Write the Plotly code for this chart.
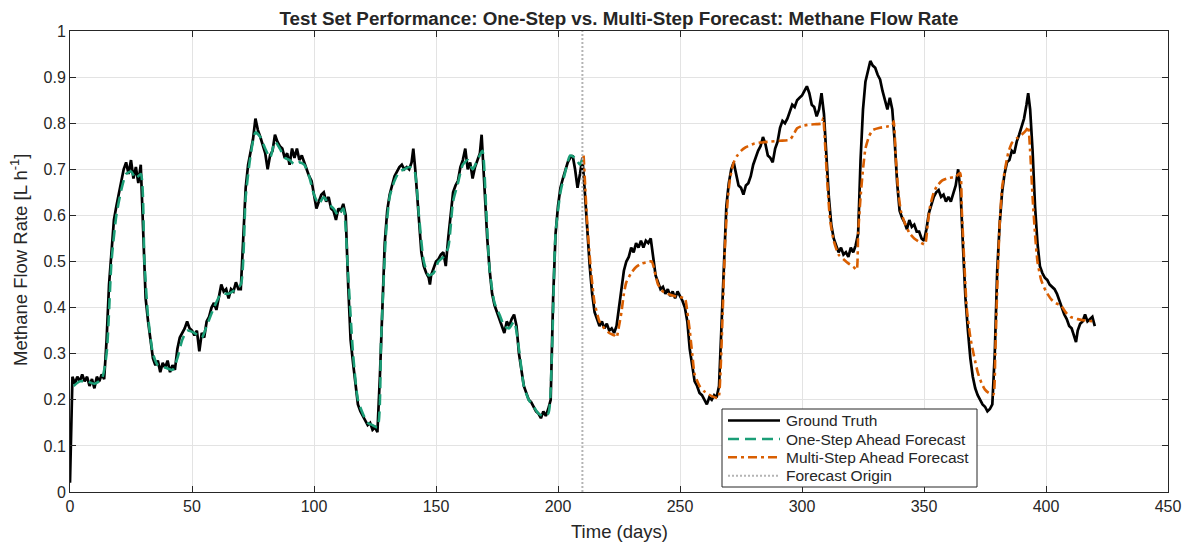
import plotly.graph_objects as go

# ---------------- data ----------------
gt_days = [0,1,2,3,4,5,6,7,8,9,10,11,12,13,14,15,16,17,18,19,20,21,22,23,24,25,26,27,28,29,
           30,31,32,33,34,35,36,37,38,39,40,41,42,43,44,45,46,47,48,49,50,51,52,53,54,55,56,57,58,59,
           60,61,62,63,64,65,66,67,68,69,70,71,72,73,74,75,76,77,78,79,80,81,82,83,84,85,86,87,88,89,
           90,91,92,93,94,95,96,97,98,99,100,101,102,103,104,105,106,107,108,109,110,111,112,113,114,115,116,117,118,119,
           120,121,122,123,124,125,126,127,128,129,130,131,132,133,134,135,136,137,138,139,140,140.7,141.5,142,143,144,145,146,147,147.5,148,149,
           150,151,152,153,154,155,156,157,158,159,160,161,162,163,164,165,166,167,168,168.7,169.5,170,171,172,173,174,175,176,177,178,179,
           180,181,182,183,184,185,186,187,188,189,190,191,192,193,194,195,196,197,198,199,200,201,202,203,204,205,206,207,208,209,
           210,211,212,213,214,215,216,217,218,219,220,221,222,223,224,225,226,227,228,229,230,231,232,233,234,235,236,237,238,239,
           240,241,242,243,244,245,246,247,248,249,250,251,252,253,254,255,256,257,258,259,260,261,262,263,264,265,266,267,268,269,
           270,271,272,273,274,275,276,277,278,279,280,281,282,283,284,285,286,287,288,289,290,291,292,293,294,295,296,297,298,299,
           300,301,302,303,304,305,306,307,308,309,310,311,312,313,314,315,316,317,318,319,320,321,322,323,324,325,326,327,328,329,
           330,331,332,333,334,335,336,337,338,339,340,341,342,343,344,345,346,347,348,349,350,351,352,353,354,355,356,357,358,359,
           360,361,362,363,364,365,366,367,368,369,370,371,372,373,374,375,376,377,378,379,380,381,382,383,384,385,386,387,388,389,
           390,391,392,392.7,393.5,394.5,395.5,396.5,397.5,398.5,399.5,400.5,401.5,402.5,403.5,404.5,405.5,406.5,407.5,408.5,409.5,410.5,411.5,412.3,413,414,415,416,417,418,419,420]
gt_vals = [0.02,0.25,0.235,0.25,0.24,0.255,0.24,0.25,0.23,0.245,0.225,0.25,0.24,0.255,0.245,0.33,0.45,0.53,0.59,0.62,0.645,0.67,0.70,0.715,0.69,0.72,0.68,0.705,0.67,0.71,
           0.55,0.42,0.37,0.33,0.29,0.275,0.285,0.26,0.28,0.27,0.285,0.26,0.275,0.265,0.31,0.335,0.345,0.355,0.37,0.355,0.35,0.34,0.35,0.305,0.345,0.335,0.37,0.38,0.40,0.41,
           0.395,0.42,0.45,0.435,0.44,0.42,0.44,0.435,0.455,0.44,0.44,0.55,0.66,0.71,0.74,0.765,0.81,0.785,0.77,0.75,0.735,0.70,0.73,0.74,0.775,0.76,0.75,0.745,0.725,0.735,
           0.71,0.745,0.725,0.745,0.72,0.73,0.715,0.70,0.685,0.675,0.64,0.615,0.63,0.645,0.65,0.63,0.64,0.615,0.61,0.59,0.615,0.61,0.625,0.60,0.45,0.33,0.28,0.24,0.19,0.175,
           0.165,0.155,0.145,0.15,0.135,0.14,0.13,0.25,0.42,0.54,0.61,0.645,0.665,0.685,0.695,0.705,0.71,0.70,0.705,0.70,0.715,0.745,0.70,0.66,0.58,0.52,0.49,0.475,0.465,0.45,0.47,0.485,
           0.50,0.505,0.515,0.52,0.49,0.55,0.60,0.65,0.665,0.675,0.705,0.72,0.745,0.70,0.715,0.68,0.705,0.72,0.735,0.775,0.70,0.63,0.55,0.48,0.43,0.405,0.39,0.375,0.36,0.345,0.37,
           0.36,0.375,0.385,0.36,0.30,0.265,0.23,0.215,0.20,0.195,0.185,0.175,0.17,0.16,0.175,0.165,0.18,0.20,0.42,0.56,0.62,0.66,0.68,0.70,0.715,0.725,0.73,0.70,0.66,0.69,
           0.725,0.65,0.56,0.49,0.43,0.39,0.375,0.36,0.37,0.355,0.365,0.35,0.355,0.345,0.36,0.40,0.45,0.48,0.50,0.51,0.53,0.52,0.54,0.53,0.545,0.53,0.545,0.54,0.55,0.51,
           0.47,0.455,0.44,0.445,0.43,0.44,0.425,0.435,0.42,0.435,0.425,0.415,0.40,0.37,0.31,0.27,0.24,0.23,0.215,0.21,0.20,0.19,0.205,0.20,0.21,0.205,0.23,0.36,0.50,0.62,
           0.67,0.70,0.715,0.69,0.665,0.66,0.645,0.665,0.67,0.685,0.71,0.725,0.74,0.75,0.77,0.755,0.73,0.725,0.715,0.745,0.76,0.79,0.805,0.80,0.81,0.825,0.84,0.835,0.85,0.855,
           0.86,0.87,0.88,0.865,0.84,0.835,0.815,0.83,0.865,0.82,0.72,0.64,0.58,0.55,0.535,0.52,0.53,0.515,0.52,0.51,0.53,0.52,0.535,0.56,0.72,0.83,0.89,0.91,0.935,0.925,
           0.92,0.905,0.895,0.87,0.85,0.83,0.855,0.83,0.76,0.67,0.61,0.595,0.585,0.57,0.59,0.575,0.58,0.565,0.565,0.55,0.545,0.57,0.605,0.625,0.64,0.65,0.655,0.64,0.645,0.63,
           0.64,0.63,0.65,0.665,0.70,0.65,0.53,0.42,0.35,0.29,0.25,0.225,0.21,0.20,0.19,0.185,0.175,0.18,0.19,0.30,0.48,0.58,0.65,0.69,0.715,0.72,0.74,0.735,0.76,0.775,
           0.795,0.81,0.84,0.865,0.83,0.74,0.62,0.54,0.49,0.475,0.465,0.46,0.45,0.445,0.44,0.43,0.415,0.40,0.385,0.375,0.36,0.355,0.34,0.325,0.35,0.365,0.37,0.385,0.37,0.375,0.38,0.36]

one_days = [1.5,4,7,10,13,15,17,19,21,23,25,27,29,30.5,32,34,36,39,42,44,46,48,51,54,56,59,62,65,68,70,
            72,74,76,78,80,82,84,86,88,90,92,94,96,98,100,102,104,106,108,110,112,114,116,118,120,122,124,126,127.5,129.5,
            131,133,135,137,139,141,143,145,147,149,151,153,155,157,159,161,163,165,167,169,170.5,172,174,176,178,180,182,184,186,188,
            190,192,194,196,197.5,199,201,203,205,207,209,210]
one_vals = [0.23,0.24,0.24,0.235,0.245,0.30,0.50,0.60,0.655,0.69,0.695,0.68,0.69,0.50,0.38,0.30,0.275,0.27,0.265,0.29,0.33,0.35,0.345,0.335,0.36,0.40,0.43,0.43,0.44,0.45,
            0.64,0.73,0.78,0.77,0.745,0.725,0.76,0.745,0.725,0.72,0.71,0.715,0.71,0.685,0.645,0.625,0.64,0.625,0.615,0.60,0.615,0.47,0.30,0.20,0.17,0.15,0.145,0.14,0.33,0.56,
            0.64,0.675,0.695,0.70,0.705,0.70,0.60,0.50,0.47,0.475,0.50,0.51,0.53,0.63,0.67,0.71,0.72,0.70,0.72,0.74,0.62,0.48,0.41,0.385,0.36,0.355,0.37,0.31,0.23,0.20,
            0.185,0.17,0.165,0.17,0.30,0.56,0.65,0.695,0.73,0.725,0.71,0.72]

multi_days = [210.5,212,213.5,215,217,219,221,223,224,225,226,227,228,230,232,234,236,238.4,240,241,243,246,249,252,253,254,255,256,258,260,
              263,265.7,266.5,267.5,268.5,269.5,270.5,272,273.5,275,277,280,283,287,291,295,296.5,298,300,303,306,308,308.7,309.5,310.5,311.5,313,315,317,319,
              321,322.4,323,324,325,326,327.5,329,332,335,337,337.6,338.5,339.5,340.5,342,344,346,348,350.4,351.5,352.5,354,355.5,357.5,360,363,364.8,365.5,366.5,
              367.5,369,370.5,372,373.6,375,376.5,378.4,379.2,380,381,382,383.2,384.5,386,388,390,392,392.7,393.5,394.5,395.5,396.5,398,400,402.3,404,406.4,408,410,
              413,416,420]
multi_vals = [0.73,0.58,0.48,0.41,0.37,0.355,0.345,0.34,0.335,0.36,0.39,0.43,0.455,0.475,0.488,0.495,0.498,0.50,0.47,0.45,0.435,0.428,0.423,0.42,0.39,0.35,0.30,0.255,0.23,0.218,
              0.208,0.204,0.25,0.39,0.54,0.63,0.68,0.715,0.73,0.74,0.748,0.755,0.758,0.76,0.762,0.764,0.775,0.789,0.794,0.797,0.798,0.799,0.811,0.75,0.66,0.59,0.545,0.515,0.505,0.496,
              0.489,0.482,0.56,0.64,0.70,0.745,0.772,0.785,0.79,0.793,0.795,0.804,0.72,0.65,0.61,0.585,0.562,0.55,0.543,0.537,0.58,0.62,0.65,0.665,0.676,0.681,0.684,0.692,0.61,0.50,
              0.40,0.335,0.295,0.26,0.236,0.222,0.215,0.211,0.30,0.44,0.58,0.66,0.70,0.735,0.757,0.767,0.775,0.786,0.793,0.74,0.64,0.56,0.50,0.46,0.435,0.417,0.41,0.403,0.39,0.38,
              0.375,0.372,0.37]

origin_day = 210
origin_span = [0, 1]

x_ticks = [0, 50, 100, 150, 200, 250, 300, 350, 400, 450]
y_ticks = [0, 0.1, 0.2, 0.3, 0.4, 0.5, 0.6, 0.7, 0.8, 0.9, 1]
y_tick_text = ["0", "0.1", "0.2", "0.3", "0.4", "0.5", "0.6", "0.7", "0.8", "0.9", "1"]

series_names = ["Ground Truth", "One-Step Ahead Forecast", "Multi-Step Ahead Forecast", "Forecast Origin"]
title_text = "Test Set Performance: One-Step vs. Multi-Step Forecast: Methane Flow Rate"
x_title = "Time (days)"
y_title = "Methane Flow Rate [L h<sup>-1</sup>]"

# ---------------- styles ----------------
FONT = "Liberation Sans, Arial, Helvetica, sans-serif"
TXT = "#262626"
W, H = 1191, 544
L, R, T, B = 70, 1168, 31, 492          # plot-area pixel box
styles = [
    dict(color="black", width=2.7),
    dict(color="#1b9e77", width=2.6, dash="11px,6px"),
    dict(color="#d95f02", width=2.6, dash="9px,4px,3px,4px"),
    dict(color="#b4b4b4", width=2.0, dash="2px,2px"),
]

fig = go.Figure()
fig.add_trace(go.Scatter(x=gt_days, y=gt_vals, mode="lines", name=series_names[0], line=styles[0]))
fig.add_trace(go.Scatter(x=one_days, y=one_vals, mode="lines", name=series_names[1],
                         line=dict(**styles[1], shape="spline", smoothing=0.6)))
fig.add_trace(go.Scatter(x=multi_days, y=multi_vals, mode="lines", name=series_names[2],
                         line=dict(**styles[2], shape="spline", smoothing=0.5)))
fig.add_trace(go.Scatter(x=[origin_day, origin_day], y=origin_span, mode="lines", name=series_names[3],
                         line=styles[3]))

axis_common = dict(showline=True, linecolor=TXT, linewidth=1, mirror="ticks",
                   ticks="inside", ticklen=6, tickcolor=TXT,
                   showgrid=True, gridcolor="#e3e3e3", gridwidth=1, zeroline=False,
                   automargin=False,
                   tickfont=dict(family=FONT, size=16, color=TXT))


def px2x(px):
    return (px - L) / (R - L)


def py2y(py):
    return (B - py) / (B - T)


# ---------------- manual legend (MATLAB-style box) ----------------
shapes = [dict(type="rect", xref="paper", yref="paper",
               x0=px2x(722), x1=px2x(977), y0=py2y(487), y1=py2y(409),
               line=dict(color=TXT, width=1), fillcolor="white", layer="above")]
annotations = []
row_y = [420.5, 439, 457.3, 475.7]
for name, st, ry in zip(series_names, styles, row_y):
    ln = dict(color=st["color"], width=st["width"])
    if "dash" in st:
        ln["dash"] = st["dash"]
    shapes.append(dict(type="line", xref="paper", yref="paper",
                       x0=px2x(728), x1=px2x(780), y0=py2y(ry), y1=py2y(ry),
                       line=ln, layer="above"))
    annotations.append(dict(text=name, xref="paper", yref="paper",
                            x=px2x(784), y=py2y(ry), xanchor="left", yanchor="middle",
                            showarrow=False, font=dict(family=FONT, size=15.5, color=TXT)))

# ---------------- axis titles ----------------
annotations.append(dict(text=x_title, xref="paper", yref="paper",
                        x=0.5, y=py2y(531), xanchor="center", yanchor="middle",
                        showarrow=False, font=dict(family=FONT, size=18.5, color=TXT)))
annotations.append(dict(text=y_title, xref="paper", yref="paper", textangle=-90,
                        x=px2x(19), y=py2y(260), xanchor="center", yanchor="middle",
                        showarrow=False, font=dict(family=FONT, size=18.5, color=TXT)))

fig.update_layout(
    width=W, height=H,
    margin=dict(l=L, r=W - R, t=T, b=H - B, autoexpand=False),
    paper_bgcolor="white", plot_bgcolor="white",
    font=dict(family=FONT, color=TXT),
    showlegend=False,
    title=dict(text="<b>" + title_text + "</b>",
               x=(L + R) / 2 / W, xanchor="center", y=1 - 18 / H, yanchor="middle",
               font=dict(family=FONT, size=18.8, color=TXT)),
    xaxis=dict(range=[0, 450], tickvals=x_ticks, **axis_common),
    yaxis=dict(range=[0, 1], tickvals=y_ticks, ticktext=y_tick_text, **axis_common),
    shapes=shapes,
    annotations=annotations,
)

fig.write_html("out.html")
